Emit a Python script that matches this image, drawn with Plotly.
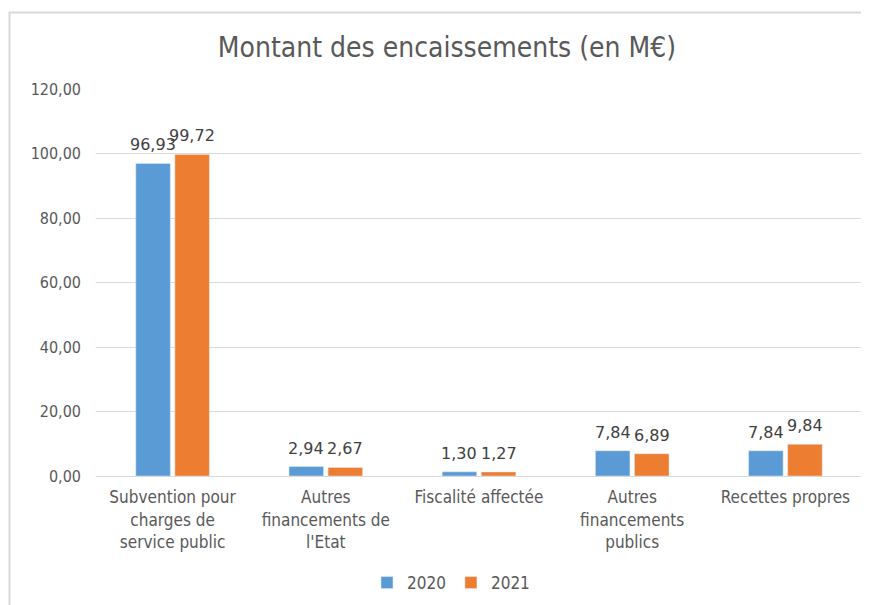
import plotly.graph_objects as go

categories = ["Subvention pour<br>charges de<br>service public",
              "Autres<br>financements de<br>l'Etat",
              "Fiscalité affectée",
              "Autres<br>financements<br>publics",
              "Recettes propres"]
values_2020 = [96.93, 2.94, 1.30, 7.84, 7.84]
values_2021 = [99.72, 2.67, 1.27, 6.89, 9.84]
tick_vals = [0, 20, 40, 60, 80, 100, 120]

FONT = "DejaVu Sans Condensed, DejaVu Sans, sans-serif"
LBLFONT = "DejaVu Sans, sans-serif"
OFF = 8  # page offset
W, H = 869 - OFF, 605 - OFF
ML, MR, MT = 96 - OFF, 7, 89 - OFF
Y0 = 476 - OFF
MB = H - Y0
BARGAP = 0.49

fig = go.Figure()
series = [("2020", values_2020, "#5b9bd5"), ("2021", values_2021, "#ed7d31")]
for name, vals, col in series:
    fig.add_trace(go.Bar(name=name, x=categories, y=vals, marker_color=col))

# data labels positioned with the axis scale (category index +/- half group slot)
half = (1 - BARGAP) / 4
for k, (name, vals, col) in enumerate(series):
    dx = -half if k == 0 else half
    for i, v in enumerate(vals):
        fig.add_annotation(x=i + dx, y=v, xref="x", yref="y",
                           text=f"{v:.2f}".replace(".", ","), showarrow=False,
                           yanchor="bottom", yshift=7,
                           font=dict(size=16, color="#404040", family=LBLFONT))

ph = H - MT - MB
pw = W - ML - MR
fig.update_layout(
    width=W, height=H,
    margin=dict(l=ML, r=MR, t=MT, b=MB, autoexpand=False),
    paper_bgcolor="white", plot_bgcolor="white",
    separators=", ",
    barmode="group", bargap=BARGAP, bargroupgap=0.115,
    font=dict(family=FONT, color="#595959", size=16),
    title=dict(text="Montant des encaissements (en M€)", x=(447 - OFF) / W, xanchor="center",
               y=1 - (47 - OFF) / H, yanchor="middle",
               font=dict(size=28, color="#595959", family=FONT)),
    yaxis=dict(range=[0, 120], tickvals=tick_vals, tickformat=".2f", automargin=False,
               showgrid=True, gridcolor="#d9d9d9", gridwidth=1, zeroline=False,
               tickfont=dict(size=16, color="#595959"), ticks="", ticklabelstandoff=14),
    xaxis=dict(showline=True, linecolor="#d9d9d9", linewidth=1, automargin=False,
               tickfont=dict(size=17, color="#595959"), ticks="", ticklabelstandoff=6),
    legend=dict(orientation="h", x=(451 - 96) / pw, xanchor="center",
                y=(476 - 583) / ph, yanchor="middle", itemwidth=30,
                font=dict(size=17, color="#595959"), traceorder="normal"),
    showlegend=True,
)
fig.add_shape(type="rect", xref="paper", yref="paper",
              x0=(1.5 - ML) / pw, x1=(W + 10 - ML) / pw,
              y0=-(H + 10 - Y0) / ph, y1=(Y0 - 4.5) / ph,
              line=dict(color="#d9d9d9", width=2), fillcolor="rgba(0,0,0,0)", layer="below")
fig.write_html("out.html")
